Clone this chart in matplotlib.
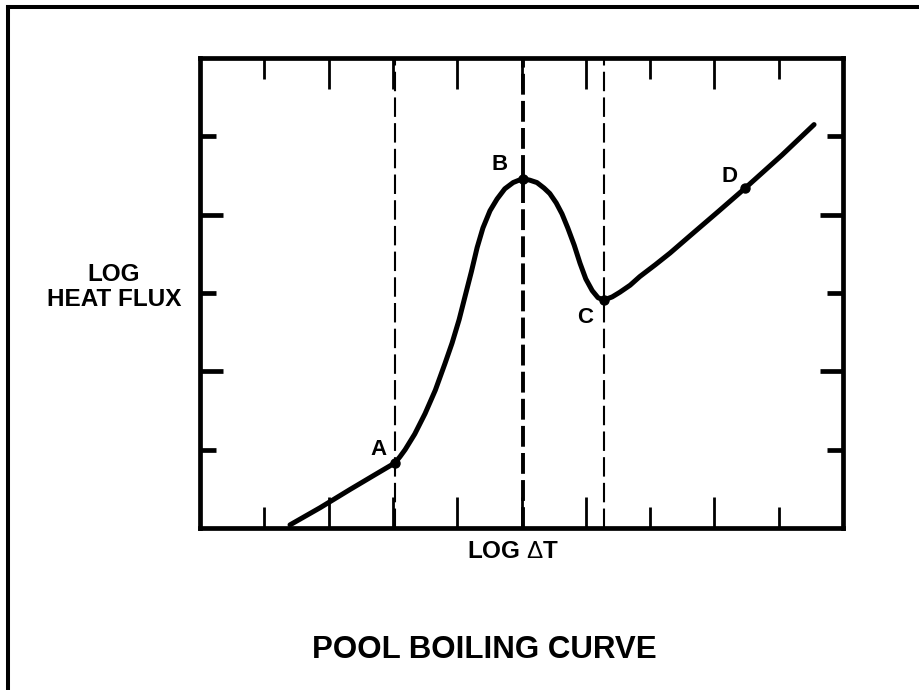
import matplotlib
matplotlib.use("Agg")
import matplotlib.pyplot as plt
from matplotlib.lines import Line2D

plt.rcParams['font.family'] = ['Liberation Sans', 'DejaVu Sans']
plt.rcParams['lines.scale_dashes'] = False
plt.rcParams['mathtext.fontset'] = 'custom'
plt.rcParams['mathtext.rm'] = 'Liberation Sans'

# ---- data (in axis units) ----
curve_x = [1.40, 1.87, 2.33, 2.72, 3.03, 3.11, 3.19, 3.34, 3.50, 3.66, 3.81, 3.92,
           4.03, 4.12, 4.22, 4.31, 4.40, 4.51, 4.62, 4.74, 4.87, 5.02, 5.13, 5.24,
           5.35, 5.44, 5.54, 5.63, 5.72, 5.82, 5.91, 6.00, 6.10, 6.19, 6.28, 6.41,
           6.53, 6.69, 6.84, 7.08, 7.31, 7.62, 8.06, 8.48, 9.05, 9.55]
curve_y = [0.04, 0.26, 0.49, 0.68, 0.83, 0.91, 1.00, 1.20, 1.46, 1.76, 2.10, 2.36,
           2.66, 2.95, 3.27, 3.58, 3.83, 4.05, 4.20, 4.33, 4.41, 4.46, 4.44, 4.41,
           4.34, 4.27, 4.15, 4.01, 3.83, 3.61, 3.38, 3.18, 3.03, 2.94, 2.91, 2.95,
           3.01, 3.10, 3.21, 3.36, 3.51, 3.73, 4.04, 4.34, 4.76, 5.15]
point_labels = ['A', 'B', 'C', 'D']
point_x = [3.03, 5.02, 6.28, 8.48]
point_y = [0.83, 4.46, 2.91, 4.34]
x_major_ticks = [2, 3, 4, 5, 6, 8]
x_minor_ticks = [1, 7, 9]
y_major_ticks = [2, 4]
y_minor_ticks = [1, 3, 5]
x_label = r'LOG $\mathrm{\Delta}$T'
y_label = 'LOG\nHEAT FLUX'
title = 'POOL BOILING CURVE'

# ---- figure ----
fig = plt.figure(figsize=(9.2, 6.9), dpi=100)
ax = fig.add_axes([200 / 920, 1 - 528 / 690, 643 / 920, 470 / 690])
ax.set_xlim(0, 10)
ax.set_ylim(0, 6)

for s in ax.spines.values():
    s.set_linewidth(3.4)
    s.set_capstyle('projecting')

ax.set_xticks(x_major_ticks)
ax.set_xticks(x_minor_ticks, minor=True)
ax.set_yticks(y_major_ticks)
ax.set_yticks(y_minor_ticks, minor=True)
ax.tick_params(axis='both', which='both', direction='in', top=True, right=True,
               labelbottom=False, labelleft=False)
ax.tick_params(axis='x', which='major', length=22, width=2.0)
ax.tick_params(axis='x', which='minor', length=15, width=2.0)
ax.tick_params(axis='y', which='major', length=16.5, width=3.4)
ax.tick_params(axis='y', which='minor', length=11.5, width=3.4)

# dashed reference lines through A, B, C
thin = dict(color='black', linewidth=1.5, dashes=(14, 4.5))
ax.axvline(point_x[0], **thin)
ax.axvline(point_x[1], color='black', linewidth=2.8, dashes=(15, 4.5))
ax.axvline(point_x[2], **thin)

# boiling curve
ax.plot(curve_x, curve_y, color='black', linewidth=3.6,
        solid_capstyle='round', solid_joinstyle='round', zorder=5)
ax.plot(point_x, point_y, 'o', color='black', markersize=6.5, zorder=6)

offsets = {'A': (-11.5, 9.5), 'B': (-16.5, 10), 'C': (-13.5, -12.5), 'D': (-11.5, 8.5)}
for lab, px, py in zip(point_labels, point_x, point_y):
    ax.annotate(lab, (px, py), xytext=offsets[lab], textcoords='offset points',
                ha='center', va='center', fontsize=16, fontweight='bold')

# axis labels and title
fig.text(114 / 920, 1 - 287 / 690, y_label, ha='center', va='center',
         fontsize=17.5, fontweight='bold', linespacing=1.15)
fig.text(513 / 920, 1 - 551 / 690, x_label, ha='center', va='center',
         fontsize=17.5, fontweight='bold')
fig.text(484 / 920, 1 - 650 / 690, title, ha='center', va='center',
         fontsize=22.5, fontweight='bold')

# outer frame (left and top edges)
fig.add_artist(Line2D([8 / 920, 8 / 920], [0, 1 - 7 / 690], color='black',
                      linewidth=2.9, transform=fig.transFigure))
fig.add_artist(Line2D([8 / 920, 1], [1 - 7 / 690, 1 - 7 / 690], color='black',
                      linewidth=2.9, transform=fig.transFigure))

fig.savefig('out.png', dpi=100, facecolor='white')
